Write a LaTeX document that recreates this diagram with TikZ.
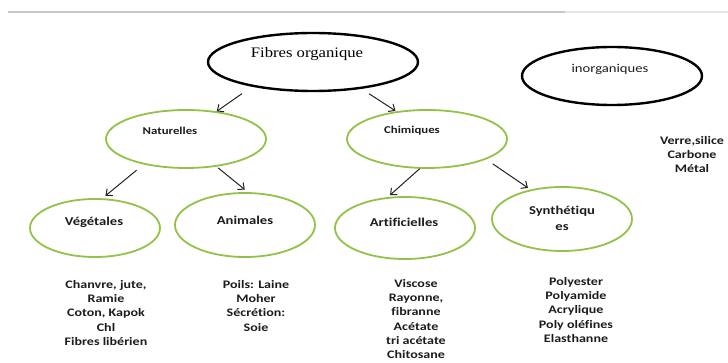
\documentclass[tikz,border=0pt]{standalone}
\usepackage{fontspec}
\usetikzlibrary{shapes.geometric,arrows.meta}
\newfontfamily\calfont[FakeStretch=1.22,Ligatures=NoCommon]{Carlito}
\newfontfamily\serfont[FakeStretch=1.15]{Liberation Serif}
\definecolor{ellgreen}{RGB}{146,194,72}
\definecolor{txtc}{RGB}{28,28,28}
\definecolor{arrc}{RGB}{35,35,35}
\tikzset{
  blackell/.style={shape=ellipse,draw=black,line width=2.4pt,inner sep=0pt},
  greenell/.style={shape=ellipse,draw=ellgreen,line width=1.8pt,inner sep=0pt},
  lbl/.style={font=\calfont\bfseries\fontsize{10.5}{13}\selectfont,text=txtc,inner sep=0pt},
  lblbig/.style={font=\calfont\bfseries\fontsize{12}{16}\selectfont,text=txtc,inner sep=0pt,align=center},
  listtxt/.style={font=\calfont\bfseries\fontsize{11.5}{14.3}\selectfont,text=txtc,inner sep=0pt,align=center,anchor=north},
  conn/.style={draw=arrc,line width=1pt,-{Straight Barb[length=5pt,width=9pt]}}
}
\begin{document}
\begin{tikzpicture}[x=1pt,y=-1pt]
\useasboundingbox (0,0) rectangle (728,363);
% top rule
\draw[color=black!22,line width=1.6pt] (8,12) -- (565,12);
\draw[color=black!10,line width=1.6pt] (565,12) -- (728,12);
% ellipses
\node[blackell,minimum width=210pt,minimum height=58pt] (fib) at (313,62) {};
\node[blackell,minimum width=180pt,minimum height=58pt] (inorg) at (612,76) {};
\node[greenell,minimum width=160pt,minimum height=58pt] (nat) at (186,139) {};
\node[greenell,minimum width=160pt,minimum height=58pt] (chi) at (427,139) {};
\node[greenell,minimum width=130pt,minimum height=58pt] (veg) at (95,228) {};
\node[greenell,minimum width=140pt,minimum height=64pt] (ani) at (245,225) {};
\node[greenell,minimum width=140pt,minimum height=62pt] (art) at (405,228) {};
\node[greenell,minimum width=140pt,minimum height=64pt] (syn) at (562,219) {};
% labels
\node[font=\serfont\fontsize{14.5}{16}\selectfont,text=black,inner sep=0pt] (fibt) at (307,54) {Fibres organique};
\node[lblbig,font=\calfont\fontsize{12}{14}\selectfont] (inorgt) at (610,69) {inorganiques};
\node[lbl] (natt) at (170,131) {Naturelles};
\node[lbl] (chit) at (412,131) {Chimiques};
\node[lblbig] (vegt) at (94,222) {Végétales};
\node[lblbig] (anit) at (245,220) {Animales};
\node[lblbig] (artt) at (404,222) {Artificielles};
\node[lblbig] (synt) at (562,218) {Synthétiqu\\es};
% lists
\node[listtxt] (vegl) at (106,280) {Chanvre, jute,\\Ramie\\Coton, Kapok\\Chl\\Fibres libérien};
\node[listtxt] (anil) at (256,280) {Poils: Laine\\Moher\\Sécrétion:\\Soie};
\node[listtxt] (artl) at (416,279) {Viscose\\Rayonne,\\fibranne\\Acétate\\tri acétate\\Chitosane};
\node[listtxt] (synl) at (576,277) {Polyester\\Polyamide\\Acrylique\\Poly oléfines\\Elasthanne};
\node[listtxt] (inorgl) at (692,136) {Verre,silice\\Carbone\\Métal};
% connectors
\draw[conn,shorten <=12pt] (fib.202) -- (nat.42);
\draw[conn,shorten <=9pt,shorten >=1pt] (fib.331) -- (chi.138);
\draw[conn,shorten <=9pt,shorten >=4pt] (nat.211) -- (veg.76);
\draw[conn,shorten <=2pt,shorten >=4pt] (nat.318) -- (ani.85);
\draw[conn,shorten >=3pt] (chi.256) -- (art.119);
\draw[conn,shorten <=8pt,shorten >=3pt] (chi.341) -- (syn.137);
\end{tikzpicture}
\end{document}
